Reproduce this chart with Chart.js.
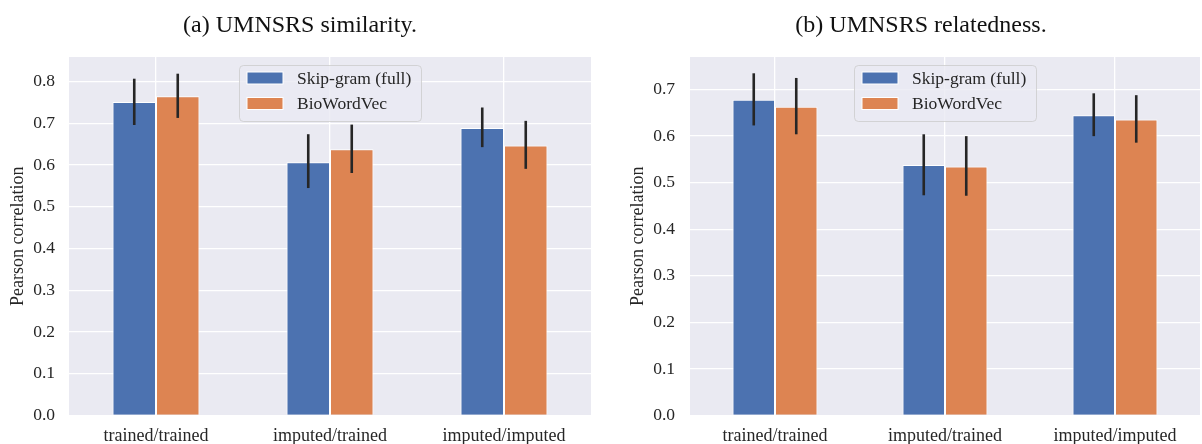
<!DOCTYPE html>
<html>
<head>
<meta charset="utf-8">
<script src="https://cdn.jsdelivr.net/npm/chart.js@4.4.0/dist/chart.umd.min.js"></script>
<style>
  body { margin: 0; background: #fff; }
  #wrap { position: relative; width: 1202px; height: 444px; }
  canvas { position: absolute; top: 0; }
</style>
</head>
<body>
<div id="wrap">
  <canvas id="sim" width="600" height="444" style="left:0"></canvas>
  <canvas id="rel" width="602" height="444" style="left:600px"></canvas>
</div>
<script>
// categories and series
const categories = ['trained/trained', 'imputed/trained', 'imputed/imputed'];
const seriesNames = ['Skip-gram (full)', 'BioWordVec'];

// (a) similarity
const simSkip   = [0.751, 0.607, 0.689];
const simSkipLo = [0.696, 0.545, 0.643];
const simSkipHi = [0.807, 0.674, 0.738];
const simBio    = [0.765, 0.638, 0.647];
const simBioLo  = [0.713, 0.581, 0.591];
const simBioHi  = [0.819, 0.697, 0.706];

// (b) relatedness
const relSkip   = [0.678, 0.538, 0.645];
const relSkipLo = [0.623, 0.473, 0.600];
const relSkipHi = [0.735, 0.604, 0.692];
const relBio    = [0.663, 0.535, 0.636];
const relBioLo  = [0.604, 0.472, 0.586];
const relBioHi  = [0.725, 0.600, 0.688];

const BLUE = '#4c72b0', ORANGE = '#dd8452';
const SERIF = "'Liberation Serif', 'Times New Roman', serif";

// plot background (seaborn darkgrid)
const bgPlugin = {
  id: 'bg',
  beforeDraw(chart) {
    const {ctx, chartArea: a} = chart;
    ctx.save();
    ctx.fillStyle = '#eaeaf2';
    ctx.fillRect(a.left, a.top, a.right - a.left, a.bottom - a.top);
    ctx.restore();
  }
};

// vertical error bars from lo/hi arrays on each dataset
const errPlugin = {
  id: 'err',
  afterDatasetsDraw(chart) {
    const {ctx} = chart;
    const y = chart.scales.y;
    ctx.save();
    ctx.strokeStyle = '#262626';
    ctx.lineWidth = 2.6;
    chart.data.datasets.forEach((ds, i) => {
      const meta = chart.getDatasetMeta(i);
      meta.data.forEach((bar, j) => {
        ctx.beginPath();
        ctx.moveTo(bar.x, y.getPixelForValue(ds.lo[j]));
        ctx.lineTo(bar.x, y.getPixelForValue(ds.hi[j]));
        ctx.stroke();
      });
    });
    ctx.restore();
  }
};

// caption and in-plot legend
const decoPlugin = {
  id: 'deco',
  afterDraw(chart, args, opts) {
    const {ctx, chartArea: a} = chart;
    ctx.save();
    ctx.fillStyle = '#111';
    ctx.font = '24px ' + SERIF;
    ctx.textAlign = 'center';
    ctx.textBaseline = 'middle';
    ctx.fillText(opts.caption, opts.captionX, 26);

    const w = 182, h = 56;
    const x = (a.left + a.right) / 2 - w / 2, top = 65;
    ctx.beginPath();
    ctx.roundRect(x + 0.5, top + 0.5, w, h, 4);
    ctx.fillStyle = 'rgba(234,234,242,0.8)';
    ctx.fill();
    ctx.strokeStyle = 'rgba(204,204,204,0.8)';
    ctx.lineWidth = 1;
    ctx.stroke();

    ctx.font = '17.5px ' + SERIF;
    ctx.textAlign = 'left';
    chart.data.datasets.forEach((ds, i) => {
      const cy = top + 13 + i * 25.5;
      ctx.fillStyle = ds.backgroundColor;
      ctx.fillRect(x + 8, cy - 6, 36, 12);
      ctx.strokeStyle = '#fff';
      ctx.strokeRect(x + 8, cy - 6, 36, 12);
      ctx.fillStyle = '#262626';
      ctx.fillText(ds.label, x + 58, cy + 1);
    });
    ctx.restore();
  }
};

function makeChart(id, skip, skipLo, skipHi, bio, bioLo, bioHi, cfg) {
  return new Chart(document.getElementById(id), {
    type: 'bar',
    data: {
      labels: categories,
      datasets: [
        { label: seriesNames[0], data: skip, lo: skipLo, hi: skipHi,
          backgroundColor: BLUE, borderColor: '#fff', borderWidth: 1 },
        { label: seriesNames[1], data: bio, lo: bioLo, hi: bioHi,
          backgroundColor: ORANGE, borderColor: '#fff', borderWidth: 1 }
      ]
    },
    options: {
      responsive: false,
      animation: false,
      layout: { padding: { top: 57, right: cfg.padRight, left: 0, bottom: 0 } },
      datasets: { bar: { barPercentage: 1, categoryPercentage: 0.5 } },
      scales: {
        x: {
          offset: true,
          grid: { color: '#fff', lineWidth: 1.3, offset: false, drawTicks: false },
          border: { display: false },
          ticks: { color: '#262626', padding: 10, font: { family: SERIF, size: 18 } },
          afterFit: s => { s.height = 28.5; }
        },
        y: {
          min: 0, max: cfg.ymax,
          grid: { color: '#fff', lineWidth: 1.3, drawTicks: false },
          border: { display: false },
          ticks: { stepSize: 0.1, includeBounds: false, color: '#262626', padding: cfg.tickPad,
                   font: { family: SERIF, size: 17.5 }, callback: v => v.toFixed(1) },
          title: { display: true, text: 'Pearson correlation', color: '#262626',
                   padding: { top: cfg.titlePad, bottom: 0 }, font: { family: SERIF, size: 18 } },
          afterFit: s => { s.width = cfg.yWidth; }
        }
      },
      plugins: {
        legend: { display: false },
        title: { display: false },
        tooltip: { enabled: false },
        deco: { caption: cfg.caption, captionX: cfg.captionX }
      }
    },
    plugins: [bgPlugin, errPlugin, decoPlugin]
  });
}

makeChart('sim', simSkip, simSkipLo, simSkipHi, simBio, simBioLo, simBioHi, {
  ymax: 0.859, padRight: 9, yWidth: 69, tickPad: 14, titlePad: 7,
  caption: '(a) UMNSRS similarity.', captionX: 300
});
makeChart('rel', relSkip, relSkipLo, relSkipHi, relBio, relBioLo, relBioHi, {
  ymax: 0.770, padRight: 2, yWidth: 90, tickPad: 15, titlePad: 27,
  caption: '(b) UMNSRS relatedness.', captionX: 321
});
</script>
</body>
</html>
